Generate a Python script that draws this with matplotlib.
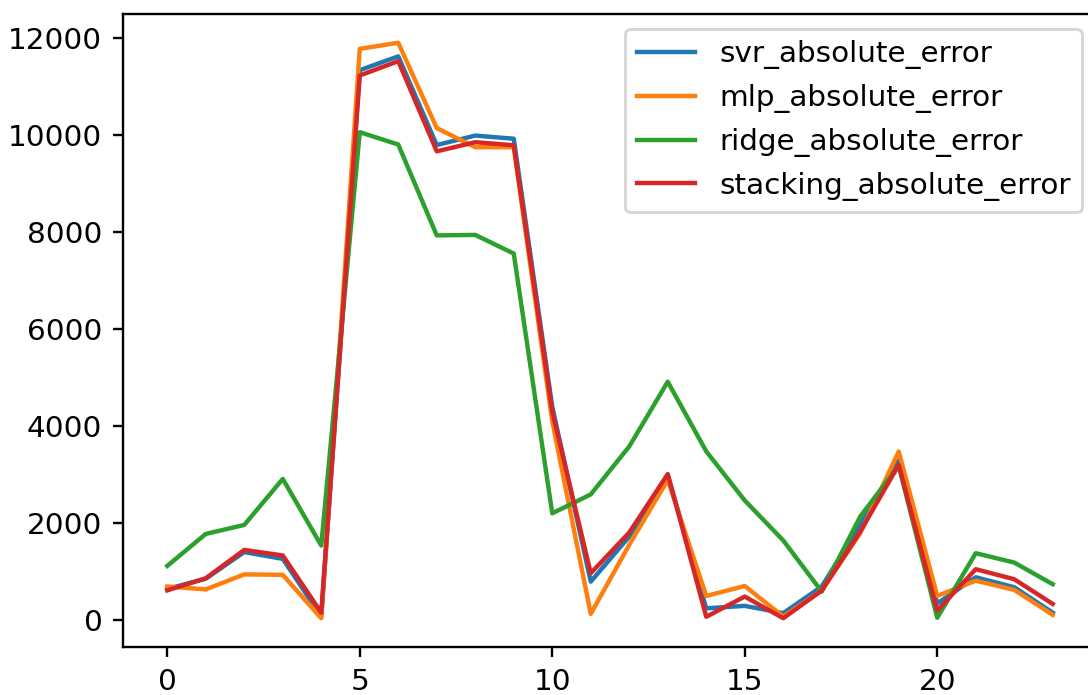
import matplotlib
matplotlib.use("Agg")
import matplotlib.pyplot as plt
import numpy as np

# absolute errors per test sample
svr_absolute_error = [640, 850, 1400, 1260, 70, 11345, 11630, 9800, 9995, 9930,
                      4400, 790, 1720, 2990, 240, 290, 140, 690, 1960, 3290,
                      340, 880, 675, 150]
mlp_absolute_error = [690, 630, 940, 930, 35, 11785, 11910, 10150, 9755, 9755,
                      4100, 125, 1550, 2890, 495, 700, 70, 605, 1790, 3475,
                      495, 810, 620, 105]
ridge_absolute_error = [1115, 1775, 1960, 2910, 1535, 10065, 9810, 7935, 7945, 7560,
                        2200, 2590, 3580, 4915, 3478, 2465, 1640, 585, 2134, 3180,
                        45, 1377, 1184, 737]
stacking_absolute_error = [610, 860, 1445, 1330, 150, 11235, 11530, 9670, 9858, 9795,
                           4300, 964, 1804, 3010, 65, 482, 35, 606, 1824, 3200,
                           193, 1047, 840, 330]

series = {
    "svr_absolute_error": svr_absolute_error,
    "mlp_absolute_error": mlp_absolute_error,
    "ridge_absolute_error": ridge_absolute_error,
    "stacking_absolute_error": stacking_absolute_error,
}

W, H, DPI = 1088, 695, 212
fig = plt.figure(figsize=(W / DPI, H / DPI), dpi=DPI)
# the reference is cropped on the right, so the axes run past the figure edge
ax = fig.add_axes([123 / W, 1 - 647 / H, (1097 - 123) / W, (647 - 14) / H])

x = np.arange(len(svr_absolute_error))
for name, vals in series.items():
    ax.plot(x, vals, label=name, linewidth=1.5)

ax.set_xticks([0, 5, 10, 15, 20])
ax.set_yticks([0, 2000, 4000, 6000, 8000, 10000, 12000])
ax.legend(loc="upper right")

fig.savefig("out.png", dpi=DPI)
